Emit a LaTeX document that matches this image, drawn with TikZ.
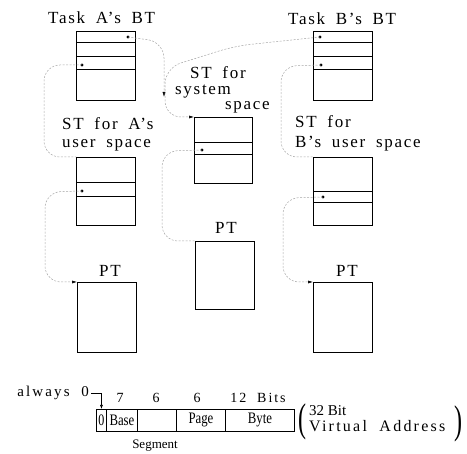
\documentclass[tikz,border=0pt]{standalone}
\usepackage{fontspec}
\setmainfont{Liberation Serif}[LetterSpace=10,WordSpace=1.8]
\newfontfamily\cellfont{Liberation Serif}
\newfontfamily\spacedfont{Liberation Serif}[LetterSpace=14,WordSpace=2]
\usetikzlibrary{arrows.meta}

\tikzset{
	tbl/.style={draw, line width=1pt, inner sep=0pt, anchor=north west, minimum width=59pt},
	lbl/.style={inner sep=0pt, anchor=base west, font=\fontsize{17}{17}\selectfont},
	link/.style={gray!70, line width=.5pt, dash pattern=on 2pt off 1.5pt, rounded corners=16pt},
	ptr/.style={link, -{Latex[black,length=5pt,width=3pt]}},
	fld/.style={draw, line width=.9pt, inner sep=0pt, anchor=north west, minimum height=22pt, font=\cellfont\fontsize{16}{16}\selectfont},
	num/.style={inner sep=0pt, anchor=base, font=\fontsize{14}{14}\selectfont}
}

\begin{document}
\begin{tikzpicture}[x=1pt,y=-1pt]
	\useasboundingbox (0,0) rectangle (467,454);
	% block tables, segment tables, page tables
	\node[tbl, minimum height=69pt] (btA) at (76,31) {};
	\node[tbl, minimum height=69pt] (btB) at (313,31) {};
	\node[tbl, minimum height=66pt, minimum width=58pt] (stS) at (194,117) {};
	\node[tbl, minimum height=68pt] (stA) at (76,157) {};
	\node[tbl, minimum height=68pt] (stB) at (313,157) {};
	\node[tbl, minimum height=70pt] (ptA) at (77,282) {};
	\node[tbl, minimum height=68pt] (ptM) at (195,241) {};
	\node[tbl, minimum height=70pt] (ptB) at (313,282) {};
	\foreach \y in {43,57,70} {
		\draw[line width=1pt] (76,\y) -- (135,\y);
		\draw[line width=1pt] (313,\y) -- (372,\y);
	}
	\foreach \y in {143,155}
		\draw[line width=1pt] (194,\y) -- (252,\y);
	\foreach \y in {183,197}
		\draw[line width=1pt] (76,\y) -- (135,\y);
	\foreach \y in {192,203}
		\draw[line width=1pt] (313,\y) -- (372,\y);

	% labels
	\node[lbl] (tA) at (48,24) {Task A's BT};
	\node[lbl] (tB) at (288,25) {Task B's BT};
	\node[lbl] (sys1) at (190,79) {ST for};
	\node[lbl] (sys2) at (175,95) {system};
	\node[lbl] (sys3) at (225,110) {space};
	\node[lbl] (ua1) at (62,130) {ST for A's};
	\node[lbl] (ua2) at (62,148) {user space};
	\node[lbl] (ub1) at (295,128) {ST for};
	\node[lbl] (ub2) at (295,148) {B's user space};
	\node[lbl, anchor=base] (pA) at (110,277) {PT};
	\node[lbl, anchor=base] (pM) at (226,234) {PT};
	\node[lbl, anchor=base] (pB) at (347,277) {PT};

	% entries
	\coordinate (a1) at (128,37);
	\coordinate (a3) at (82,65);
	\coordinate (b1) at (320,37);
	\coordinate (b3) at (321,65);
	\coordinate (s2) at (202,150);
	\coordinate (au) at (82,191);
	\coordinate (bu) at (323,197);
	\foreach \n in {a1,a3,b1,b3,s2,au,bu}
		\fill (\n) circle (1.6);

	\draw[ptr] (a1) -- (164,42) -- (164,97);
	\draw[ptr] (b1) -- (235,46) -- (165,68) -- (165,117) -- (stS.north west);
	\draw[link] (a3) -- (44,65) -- (44,157) -- (stA.north west);
	\draw[link] (b3) -- (281,66) -- (281,157) -- (stB.north west);
	\draw[link] (s2) -- (162,151) -- (162,241) -- (ptM.north west);
	\draw[ptr] (au) -- (45,192) -- (45,282) -- (ptA.north west);
	\draw[ptr] (bu) -- (283,198) -- (283,282) -- (ptB.north west);

	% virtual address format
	\node[fld, minimum width=10pt] (f0) at (96,409) {\scalebox{.75}[1]{0}};
	\node[fld, minimum width=31pt] (fbase) at (106,409) {\scalebox{.8}[1]{Base}};
	\node[fld, minimum width=39pt] (fseg) at (137,409) {};
	\node[fld, minimum width=49pt] (fpage) at (176,409) {\scalebox{.8}[1]{Page}};
	\node[fld, minimum width=69pt] (fbyte) at (225,409) {\scalebox{.8}[1]{Byte}};
	\node[num] (n7) at (120,403) {7};
	\node[num] (n6a) at (156,403) {6};
	\node[num] (n6b) at (197,403) {6};
	\node[num, font=\spacedfont\fontsize{14}{14}\selectfont] (nb) at (258,403) {12 Bits};
	\node[num, anchor=base east, font=\spacedfont\fontsize{15}{15}\selectfont] (alw) at (89,397) {always 0};
	\draw[line width=.6pt, shorten <=2pt, -{Latex[length=4pt,width=3pt]}] (alw.east) -| (f0.north);
	\node[num, font=\cellfont\fontsize{13}{13}\selectfont] (seg) at (155,449) {Segment};
	\node[num, anchor=base west, font=\cellfont\fontsize{15}{15}\selectfont] (vb) at (309,416) {32 Bit};
	\node[num, anchor=base west, font=\spacedfont\fontsize{16}{16}\selectfont] (va) at (309,432) {Virtual Address};
	\node[inner sep=0pt, font=\cellfont\fontsize{40}{40}\selectfont] (lp) at (302,422) {\scalebox{.6}[1]{(}};
	\node[inner sep=0pt, font=\cellfont\fontsize{40}{40}\selectfont] (rp) at (458,424) {\scalebox{.6}[1]{)}};
\end{tikzpicture}
\end{document}
